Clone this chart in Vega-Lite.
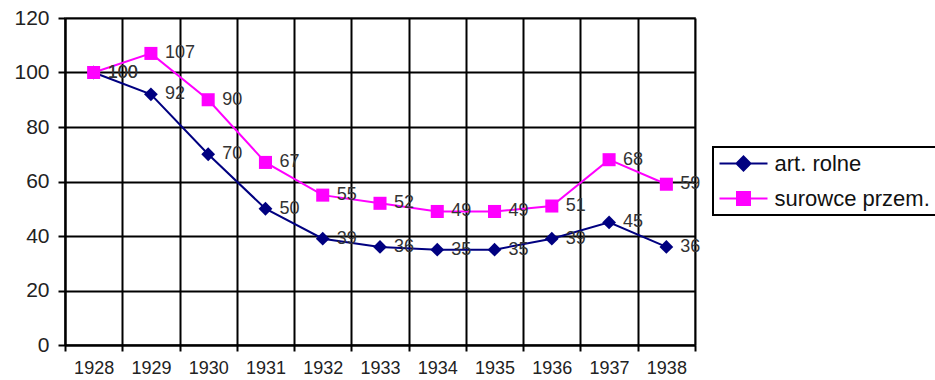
{
  "$schema": "https://vega.github.io/schema/vega-lite/v6.json",
  "width": 630,
  "height": 327,
  "autosize": {"type": "none"},
  "padding": {"left": 65, "top": 18, "right": 240, "bottom": 35},
  "background": "white",
  "config": {"font": "Liberation Sans", "view": {"stroke": "#888", "strokeWidth": 2}},
  "data": {"values": [
    {"year": "1928", "series": "art. rolne", "value": 100},
    {"year": "1929", "series": "art. rolne", "value": 92},
    {"year": "1930", "series": "art. rolne", "value": 70},
    {"year": "1931", "series": "art. rolne", "value": 50},
    {"year": "1932", "series": "art. rolne", "value": 39},
    {"year": "1933", "series": "art. rolne", "value": 36},
    {"year": "1934", "series": "art. rolne", "value": 35},
    {"year": "1935", "series": "art. rolne", "value": 35},
    {"year": "1936", "series": "art. rolne", "value": 39},
    {"year": "1937", "series": "art. rolne", "value": 45},
    {"year": "1938", "series": "art. rolne", "value": 36},
    {"year": "1928", "series": "surowce przem.", "value": 100},
    {"year": "1929", "series": "surowce przem.", "value": 107},
    {"year": "1930", "series": "surowce przem.", "value": 90},
    {"year": "1931", "series": "surowce przem.", "value": 67},
    {"year": "1932", "series": "surowce przem.", "value": 55},
    {"year": "1933", "series": "surowce przem.", "value": 52},
    {"year": "1934", "series": "surowce przem.", "value": 49},
    {"year": "1935", "series": "surowce przem.", "value": 49},
    {"year": "1936", "series": "surowce przem.", "value": 51},
    {"year": "1937", "series": "surowce przem.", "value": 68},
    {"year": "1938", "series": "surowce przem.", "value": 59}
  ]},
  "encoding": {
    "x": {
      "field": "year", "type": "ordinal",
      "scale": {"paddingInner": 0, "paddingOuter": 0},
      "axis": {
        "title": null, "labelAngle": 0, "tickBand": "extent",
        "grid": true, "gridColor": "black", "gridWidth": 2, "gridOpacity": 1,
        "domainColor": "black", "domainWidth": 2,
        "tickColor": "black", "tickWidth": 2, "tickSize": 6,
        "labelFontSize": 18, "labelColor": "#222", "labelPadding": 8
      }
    },
    "y": {
      "field": "value", "type": "quantitative",
      "scale": {"domain": [0, 120], "nice": false},
      "axis": {
        "title": null, "values": [0, 20, 40, 60, 80, 100, 120],
        "grid": true, "gridColor": "black", "gridWidth": 2, "gridOpacity": 1,
        "domainColor": "black", "domainWidth": 2,
        "tickColor": "black", "tickWidth": 2, "tickSize": 7,
        "labelFontSize": 21, "labelColor": "#222", "labelPadding": 9
      }
    },
    "color": {
      "field": "series", "type": "nominal",
      "scale": {"domain": ["art. rolne", "surowce przem."], "range": ["#000080", "#FF00FF"]},
      "legend": {
        "title": null, "orient": "none", "legendX": 648, "legendY": 129,
        "padding": 5.5, "rowPadding": 13, "labelOffset": 34, "labelFontSize": 22,
        "labelColor": "#111", "labelLimit": 0, "symbolSize": 400, "symbolStrokeWidth": 2,
        "symbolType": "M-1,0H3.8", "symbolOpacity": 1,
        "encode": {
          "legend": {"update": {"stroke": {"value": "black"}, "strokeWidth": {"value": 2}}},
          "symbols": {"update": {
            "shape": {"signal": "datum.value == 'art. rolne' ? 'M-1,0H3.8M1.4,-0.7L2.1,0L1.4,0.7L0.7,0Z' : 'M-1,0H3.8M0.75,-0.65H2.05V0.65H0.75Z'"},
            "fill": {"scale": "color", "field": "value"},
            "stroke": {"scale": "color", "field": "value"},
            "strokeWidth": {"value": 2},
            "opacity": {"value": 1}
          }}
        }
      }
    }
  },
  "layer": [
    {"mark": {"type": "line", "strokeWidth": 2}},
    {
      "transform": [{"filter": "datum.series == 'art. rolne'"}],
      "mark": {"type": "point", "shape": "diamond", "filled": true, "opacity": 1, "size": 190}
    },
    {
      "transform": [{"filter": "datum.series == 'surowce przem.'"}],
      "mark": {"type": "point", "shape": "square", "filled": true, "opacity": 1, "size": 170}
    },
    {
      "mark": {"type": "text", "align": "left", "baseline": "middle", "dx": 14, "fontSize": 18},
      "encoding": {"text": {"field": "value"}, "color": {"value": "#333"}}
    }
  ]
}
